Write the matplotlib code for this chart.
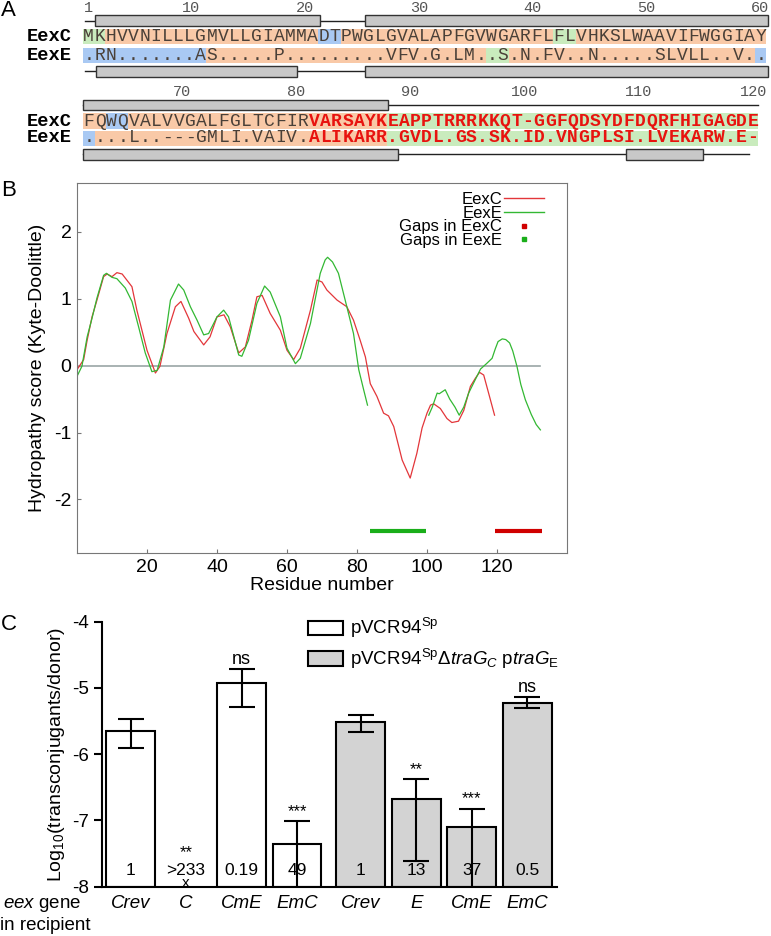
import numpy as np
import matplotlib
matplotlib.use("Agg")
import matplotlib.pyplot as plt
from matplotlib.patches import Rectangle, Patch
from matplotlib.lines import Line2D

plt.rcParams['font.family'] = ['Liberation Sans', 'DejaVu Sans']
plt.rcParams['axes.unicode_minus'] = False
plt.rcParams['mathtext.fontset'] = 'custom'
plt.rcParams['mathtext.rm'] = 'Liberation Sans'
plt.rcParams['mathtext.it'] = 'Liberation Sans:italic'

# ---------------- panel A : alignment ----------------
row1_eexc = "MKHVVNILLLGMVLLGIAMMADTPWGLGVALAPFGVWGARFLFLVHKSLWAAVIFWGGIAY"
row1_eexe = ".RN.......AS.....P.........VFV.G.LM..S.N.FV..N.....SLVLL..V.."
row2_eexc = "FQWQVALVVGALFGLTCFIRVARSAYKEAPPTRRRKKQT-GGFQDSYDFDQRFHIGAGDE"
row2_eexe = "....L..---GMLI.VAIV.ALIKARR.GVDL.GS.SK.ID.VNGPLSI.LVEKARW.E-"
# residue classes: o = orange, b = blue, g = green
row1_cls_c = "gg" + "o" * 19 + "bb" + "o" * 19 + "gg" + "o" * 17
row1_cls_e = "b" * 11 + "o" * 25 + "gg" + "o" * 22 + "b"
row2_cls_c = "oo" + "bb" + "o" * 23 + "g" * 33
row2_cls_e = "b" + "o" * 26 + "g" * 33
red_from = 20          # bold red part in row 2 (0-based column)
row1_numbers = [1, 10, 20, 30, 40, 50, 60]
row2_numbers = [70, 80, 90, 100, 110, 120]
# predicted helices (alignment columns)
helix_c = [(1.1, 21.2), (25.2, 88.1)]
helix_e = [(1.2, 19.1), (25.2, 89.0), (109.2, 116.1)]
span_c = (0.2, 121.0)
span_e = (0.2, 120.2)

# ---------------- panel B : hydropathy ----------------
eexc_x = [0.0, 1.9, 2.9, 4.3, 5.7, 7.6, 8.6, 10.0, 11.4, 12.9, 15.7, 17.1, 20.0, 22.4, 23.7,
          25.7, 28.1, 29.7, 31.9, 33.4, 36.2, 38.0, 40.0, 42.0, 43.8, 46.2, 48.1, 50.0, 51.4,
          52.9, 55.2, 58.1, 60.0, 61.9, 63.8, 66.7, 68.6, 70.0, 71.4, 74.3, 77.1, 79.0, 80.9,
          82.4, 83.8, 85.7, 87.6, 89.0, 90.5, 92.9, 95.2, 97.1, 98.6, 100.0, 101.0, 101.9,
          103.8, 105.7, 107.1, 109.0, 110.5, 112.4, 113.8, 115.0, 116.2, 117.6, 119.3]
eexc_y = [-0.06, 0.09, 0.38, 0.73, 0.98, 1.33, 1.37, 1.33, 1.39, 1.37, 1.18, 0.83, 0.23, -0.11,
          -0.01, 0.48, 0.88, 0.96, 0.71, 0.51, 0.31, 0.43, 0.73, 0.76, 0.58, 0.19, 0.28, 0.68,
          1.03, 1.05, 0.78, 0.53, 0.23, 0.09, 0.26, 0.83, 1.28, 1.25, 1.13, 0.98, 0.88, 0.68,
          0.38, 0.13, -0.27, -0.46, -0.71, -0.75, -0.91, -1.41, -1.68, -1.31, -0.93, -0.71,
          -0.59, -0.57, -0.64, -0.79, -0.85, -0.83, -0.67, -0.31, -0.19, -0.10, -0.14, -0.41,
          -0.74]
eexe_x1 = [0.0, 1.4, 2.9, 4.3, 5.7, 7.6, 8.4, 10.0, 11.4, 13.8, 15.7, 17.6, 19.5, 21.4, 22.9,
           24.8, 26.7, 29.0, 30.5, 32.4, 34.3, 36.2, 37.6, 40.0, 41.9, 43.3, 46.2, 47.1, 49.0,
           51.4, 53.6, 55.2, 58.1, 60.0, 62.4, 63.8, 66.7, 69.5, 70.9, 71.6, 73.0, 74.7, 77.1,
           79.0, 80.5, 81.9, 83.0]
eexe_y1 = [-0.16, -0.01, 0.43, 0.71, 1.01, 1.35, 1.38, 1.32, 1.30, 1.16, 0.96, 0.58, 0.19,
           -0.09, -0.07, 0.28, 0.98, 1.22, 1.13, 0.88, 0.68, 0.46, 0.48, 0.73, 0.83, 0.73, 0.16,
           0.14, 0.38, 0.93, 1.19, 1.10, 0.73, 0.26, 0.03, 0.11, 0.63, 1.38, 1.58, 1.62, 1.55,
           1.38, 0.88, 0.48, -0.06, -0.36, -0.59]
eexe_x2 = [100.5, 101.5, 102.9, 103.5, 105.2, 106.5, 108.0, 109.2, 110.5, 111.9, 113.5, 115.3,
           117.0, 118.6, 119.5, 120.3, 121.5, 122.5, 123.6, 124.5, 125.7, 126.8, 128.1, 129.8,
           131.2, 132.4]
eexe_y2 = [-0.74, -0.62, -0.41, -0.42, -0.36, -0.50, -0.62, -0.74, -0.62, -0.41, -0.24, -0.05,
           0.03, 0.11, 0.25, 0.36, 0.40, 0.39, 0.34, 0.22, -0.01, -0.28, -0.51, -0.73, -0.88,
           -0.96]
gaps_eexc = (119.5, 132.9)
gaps_eexe = (83.6, 99.6)
gap_level = -2.47

# ---------------- panel C : conjugation ----------------
recipients = ["Crev", "C", "CmE", "EmC", "Crev", "E", "CmE", "EmC"]
log_freq = [-5.65, np.nan, -4.93, -7.35, -5.52, -6.67, -7.10, -5.23]
err_top = [-5.47, np.nan, -4.72, -7.01, -5.41, -6.38, -6.82, -5.14]
err_bottom = [-5.90, np.nan, -5.29, -8.40, -5.67, -7.61, -8.40, -5.31]
fold_change = ["1", ">233", "0.19", "49", "1", "13", "37", "0.5"]
signif = ["", "**", "ns", "***", "", "**", "***", "ns"]
donor = [0, 0, 0, 0, 1, 1, 1, 1]
donor_labels = [r"pVCR94$^{\mathrm{Sp}}$",
                r"pVCR94$^{\mathrm{Sp}}\Delta\it{traG}_{C}$ p$\it{traG}$$_{\mathrm{E}}$"]

W, H = 771, 936
fig = plt.figure(figsize=(W / 100, H / 100), dpi=100)


def px_box(l, t, r, b):
    return [l / W, 1 - b / H, (r - l) / W, (b - t) / H]


colors_bg = {"o": "#F9C9A7", "b": "#A9C9F3", "g": "#C9EBBD"}


def draw_row(box, x0, cw, col0, ncol, seqs, classes, ys, numbers, num_off):
    ax = fig.add_axes(px_box(*box))
    ax.set_xlim(-x0 / cw, (W - x0) / cw)
    ax.set_ylim(box[3], box[1])
    ax.axis("off")
    num_y, bar_c, bg_c, bg_e, bar_e = ys
    for n in numbers:
        ax.text((n - col0) * 1.016 + num_off, num_y, str(n), ha="center", va="center",
                family="Liberation Mono", fontsize=11, color="#555555")
    for seq, cls, bg, name in zip(seqs, classes, (bg_c, bg_e), ("EexC", "EexE")):
        ax.text(-1.0, bg[1] - 3, name, ha="right", va="baseline", family="Liberation Mono",
                fontweight="bold", fontsize=13.5, color="black")
        for i, (ch, k) in enumerate(zip(seq, cls)):
            ax.add_patch(Rectangle((i, bg[0]), 1, bg[1] - bg[0], color=colors_bg[k], lw=0))
            red = col0 > 0 and i >= red_from
            ax.text(i + 0.5, bg[1] - 3, ch, ha="center", va="baseline",
                    family="Liberation Mono", fontsize=13,
                    fontweight="bold" if red else "normal",
                    color="#E8130F" if red else "#4a4038")
    for helices, span, yb in ((helix_c, span_c, bar_c), (helix_e, span_e, bar_e)):
        lo = max(span[0], col0) - col0
        hi = min(span[1], col0 + ncol) - col0
        yc = (yb[0] + yb[1]) / 2
        ax.plot([lo, hi], [yc, yc], color="#222222", lw=1)
        for a, b in helices:
            a2 = max(a, col0) - col0
            b2 = min(b, col0 + ncol + 0.2) - col0
            if b2 > a2:
                ax.add_patch(Rectangle((a2, yb[0]), b2 - a2, yb[1] - yb[0], facecolor="#C8C8C8",
                                       edgecolor="#333333", lw=1, zorder=3))
    return ax


draw_row((0, 0, W, 80), 83.0, 11.2, 0, 61, (row1_eexc, row1_eexe), (row1_cls_c, row1_cls_e),
         (7.5, (15, 26), (29, 44), (48, 63), (65.5, 77)), row1_numbers, -0.5)
draw_row((0, 80, W, 175), 83.3, 11.25, 61, 60, (row2_eexc, row2_eexe), (row2_cls_c, row2_cls_e),
         (91.5, (100, 110), (113, 128.5), (131, 145.5), (148.5, 160)), row2_numbers, -0.4)

# panel letters
fig.text(1 / W, 1 - 10 / H, "A", fontsize=16, va="center", ha="left")
fig.text(1 / W, 1 - 190 / H, "B", fontsize=16, va="center", ha="left")
fig.text(1 / W, 1 - 624 / H, "C", fontsize=16, va="center", ha="left")

# ---------------- panel B ----------------
axb = fig.add_axes(px_box(77, 183, 567, 553))
axb.plot([0, max(eexe_x2)], [0, 0], color="#9AA6A6", lw=1.2)
axb.plot(eexc_x, eexc_y, color="#E3363A", lw=0.9, label="EexC")
axb.plot(eexe_x1, eexe_y1, color="#33B833", lw=0.9, label="EexE")
axb.plot(eexe_x2, eexe_y2, color="#33B833", lw=0.9)
axb.plot(gaps_eexe, [gap_level] * 2, color="#1AAE1A", lw=3, solid_capstyle="butt")
axb.plot(gaps_eexc, [gap_level] * 2, color="#D00000", lw=3, solid_capstyle="butt")
axb.set_xlim(0, 140)
axb.set_ylim(-2.8, 2.73)
axb.set_xticks([20, 40, 60, 80, 100, 120])
axb.set_yticks([-2, -1, 0, 1, 2])
axb.tick_params(direction="in", length=3, color="#777777", labelsize=14, pad=4)
for s in axb.spines.values():
    s.set_color("#777777")
axb.set_xlabel("Residue number", fontsize=14, labelpad=1)
axb.set_ylabel("Hydropathy score (Kyte-Doolittle)", fontsize=14, labelpad=6)
handles = [Line2D([], [], color="#E3363A", lw=1), Line2D([], [], color="#33B833", lw=1),
           Line2D([], [], color="#D00000", ls="none", marker="s", ms=2.5),
           Line2D([], [], color="#1AAE1A", ls="none", marker="s", ms=2.5)]
axb.legend(handles, ["EexC", "EexE", "Gaps in EexC", "Gaps in EexE"], loc="upper right",
           bbox_to_anchor=(0.97, 0.998), frameon=False, markerfirst=False, fontsize=12,
           labelspacing=-0.08, handlelength=2.4, handletextpad=0.1, borderpad=0)

# ---------------- panel C ----------------
axc = fig.add_axes(px_box(101.7, 621.7, 556.7, 886.7))
pos = np.array([0, 1, 2, 3, 4.15, 5.15, 6.15, 7.15])
vals = np.array(log_freq)
fills = ["white", "#D3D3D3"]
for i in range(len(pos)):
    if not np.isnan(vals[i]):
        axc.bar(pos[i], vals[i] + 8, bottom=-8, width=0.88, color=fills[donor[i]],
                edgecolor="black", lw=1.5, zorder=2)
        axc.errorbar(pos[i], vals[i], yerr=[[vals[i] - err_bottom[i]], [err_top[i] - vals[i]]],
                     color="black", lw=1.5, capsize=9.5, capthick=1.5, zorder=3)
        if signif[i]:
            axc.text(pos[i], err_top[i] + 0.08, signif[i], ha="center", va="baseline",
                     fontsize=13 if signif[i] == "ns" else 12)
    else:
        axc.text(pos[i], -7.56, signif[i], ha="center", va="baseline", fontsize=12)
        axc.text(pos[i], -7.95, "x", ha="center", va="center", fontsize=11)
    axc.text(pos[i], -7.75, fold_change[i], ha="center", va="center", fontsize=12.5,
             zorder=4)
axc.set_xlim(-0.52, 7.68)
axc.set_ylim(-8, -4)
axc.set_yticks([-8, -7, -6, -5, -4])
axc.set_xticks(pos)
axc.set_xticklabels(recipients, style="italic", fontsize=13.5)
axc.tick_params(axis="x", length=0, pad=6)
axc.tick_params(axis="y", length=6, width=1.5, labelsize=13.5, pad=3)
for side in ("top", "right"):
    axc.spines[side].set_visible(False)
for side in ("left", "bottom"):
    axc.spines[side].set_linewidth(1.5)
axc.set_ylabel(r"Log$_{10}$(transconjugants/donor)", fontsize=14, labelpad=4)
leg_handles = [Patch(facecolor=f, edgecolor="black", lw=1.5) for f in fills]
axc.legend(leg_handles, donor_labels, loc="upper left", bbox_to_anchor=(0.454, 1.02),
           frameon=False, fontsize=13.5, handlelength=1.85, handleheight=0.8,
           handletextpad=0.35, labelspacing=0.35, borderpad=0, borderaxespad=0)
fig.text(3 / W, 1 - 905 / H, r"$\it{eex}$ gene", fontsize=13.5, va="center", ha="left")
fig.text(0 / W, 1 - 925 / H, "in recipient", fontsize=13.5, va="center", ha="left")

fig.savefig("out.png", dpi=100)
